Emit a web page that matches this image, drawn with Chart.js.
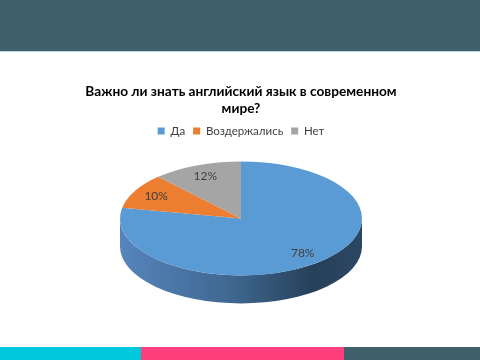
<!DOCTYPE html>
<html>
<head>
<meta charset="utf-8">
<script src="https://cdn.jsdelivr.net/npm/chart.js@4"></script>
<style>
  html, body { margin: 0; padding: 0; background: #fff; }
  #page { position: relative; width: 480px; height: 360px; overflow: hidden; }
  #header { position: absolute; left: 0; top: 0; width: 480px; height: 51px; background: #3f616b; border-bottom: 1px solid #b9d3d8; }
  .foot { position: absolute; top: 347px; height: 13px; }
  #f1 { left: 0; width: 141px; background: #00c8dc; }
  #f2 { left: 141px; width: 203px; background: #fd3f7e; }
  #f3 { left: 344px; width: 136px; background: #3f616b; }
  #wrap { position: absolute; left: 0; top: 0; width: 480px; height: 360px; }
</style>
</head>
<body>
<div id="page">
  <div id="header"></div>
  <div class="foot" id="f1"></div>
  <div class="foot" id="f2"></div>
  <div class="foot" id="f3"></div>
  <div id="wrap"><canvas id="myChart" width="480" height="360"></canvas></div>
</div>
<script>
// chart data
const titleLines = ['Важно ли знать английский язык в современном', 'мире?'];
const categories = ['Да', 'Воздержались', 'Нет'];
const values = [78, 10, 12];
const sliceColors = ['#5b9bd5', '#ed7d31', '#a5a5a5'];

// 3d look: vertical squash of the pie and depth of its side wall
const TILT = 0.471;
const DEPTH = 28;
const FONT = 'Lato, "Open Sans", sans-serif';

/**
 * Squashes the pie into an ellipse and draws the side wall under it.
 */
const tiltPlugin = {
  id: 'tilt',
  beforeDatasetsDraw(chart) {
    const ctx = chart.ctx;
    const arcs = chart.getDatasetMeta(0).data;
    const cx = arcs[0].x, cy = arcs[0].y;
    const r = arcs[0].outerRadius;

    // side wall, only the front half (angles 0..PI) is visible
    const grad = ctx.createLinearGradient(cx - r, 0, cx + r, 0);
    grad.addColorStop(0, '#5685bd');
    grad.addColorStop(0.45, '#3f6891');
    grad.addColorStop(0.8, '#27405a');
    grad.addColorStop(1, '#2c4763');
    arcs.forEach((arc) => {
      const lo = Math.max(arc.startAngle, 0);
      const hi = Math.min(arc.endAngle, Math.PI);
      if (hi <= lo) return;
      ctx.save();
      ctx.beginPath();
      ctx.ellipse(cx, cy, r, r * TILT, 0, lo, hi);
      ctx.ellipse(cx, cy + DEPTH, r, r * TILT, 0, hi, lo, true);
      ctx.closePath();
      ctx.fillStyle = grad;
      ctx.fill();
      ctx.restore();
    });

    ctx.save();
    ctx.translate(cx, cy);
    ctx.scale(1, TILT);
    ctx.translate(-cx, -cy);
  },
  afterDatasetsDraw(chart) {
    const ctx = chart.ctx;
    ctx.restore();

    // percent labels
    const arcs = chart.getDatasetMeta(0).data;
    const total = values.reduce((a, b) => a + b, 0);
    ctx.save();
    ctx.font = '12px ' + FONT;
    ctx.fillStyle = '#404040';
    ctx.textAlign = 'center';
    ctx.textBaseline = 'middle';
    arcs.forEach((arc, i) => {
      const mid = (arc.startAngle + arc.endAngle) / 2;
      const rr = arc.outerRadius * 0.8;
      const x = arc.x + Math.cos(mid) * rr;
      const y = arc.y + Math.sin(mid) * rr * TILT;
      ctx.fillText(Math.round(values[i] / total * 100) + '%', x, y);
    });
    ctx.restore();
  }
};

window.myChart = new Chart(document.getElementById('myChart'), {
  type: 'pie',
  data: {
    labels: categories,
    datasets: [{
      data: values,
      backgroundColor: sliceColors,
      borderWidth: 0,
      radius: 121
    }]
  },
  options: {
    responsive: false,
    animation: false,
    layout: { padding: { top: 74, bottom: 70, left: 2, right: 0 } },
    plugins: {
      title: {
        display: true,
        text: titleLines,
        color: '#000',
        font: { family: FONT, size: 13.7, weight: 'bold', lineHeight: 1.18 },
        padding: { top: 10, bottom: 1 }
      },
      legend: {
        position: 'top',
        labels: {
          color: '#404040',
          font: { family: FONT, size: 11.5 },
          boxWidth: 7,
          boxHeight: 7,
          padding: 8
        }
      },
      tooltip: { enabled: false }
    }
  },
  plugins: [tiltPlugin]
});
</script>
</body>
</html>
